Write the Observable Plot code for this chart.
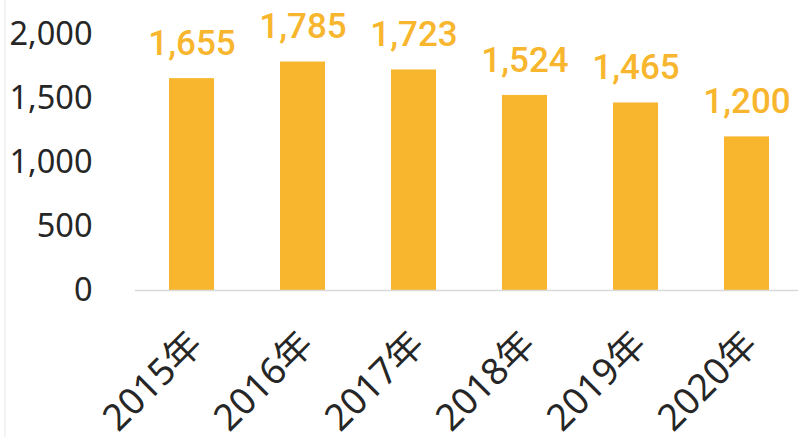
<!DOCTYPE html>
<html>
<head>
<meta charset="utf-8">
<script src="https://cdn.jsdelivr.net/npm/d3@7"></script>
<script src="https://cdn.jsdelivr.net/npm/@observablehq/plot@0.6"></script>
<style>
  html, body { margin: 0; padding: 0; background: #fff; }
  #chart { width: 798px; height: 437px; position: relative; overflow: hidden; }
  #edge { position: absolute; left: 4px; top: 0; width: 2px; height: 437px; background: #f3f3f3; }
</style>
</head>
<body>
<div id="chart"><div id="edge"></div></div>
<script>
const years = ["2015年", "2016年", "2017年", "2018年", "2019年", "2020年"];
const values = [1655, 1785, 1723, 1524, 1465, 1200];
const yTicks = [0, 500, 1000, 1500, 2000];

const data = years.map((year, i) => ({year, value: values[i]}));
const orange = "#F7B62D";
const fmt = d3.format(",");

const plot = Plot.plot({
  width: 798,
  height: 437,
  marginLeft: 135,
  marginRight: -4,
  marginTop: 34,
  marginBottom: 147,
  style: {fontFamily: "'Noto Sans','Noto Sans CJK SC',sans-serif", background: "transparent"},
  x: {domain: years, paddingInner: 0.595, paddingOuter: 0.2975, label: null},
  y: {domain: [0, 2000], label: null},
  marks: [
    Plot.barY(data, {x: "year", y: "value", fill: orange}),
    Plot.ruleY([0], {stroke: "#d9d9d9", strokeWidth: 1.5}),
    Plot.text(data, {x: "year", y: "value", text: d => fmt(d.value), dy: -35,
      fill: orange, fontSize: 35, fontWeight: 500, fontFamily: "Roboto"}),
    Plot.axisY({ticks: yTicks, tickFormat: fmt, tickSize: 0, tickPadding: 43,
      fontSize: 32.5, color: "#262626", label: null}),
    Plot.axisX({tickRotate: -45, tickSize: 0, tickPadding: 48, dx: 4,
      fontSize: 37, color: "#262626", label: null})
  ]
});
document.getElementById("chart").appendChild(plot);
plot.style.position = "absolute";
plot.style.left = "0";
plot.style.top = "0";
</script>
</body>
</html>
